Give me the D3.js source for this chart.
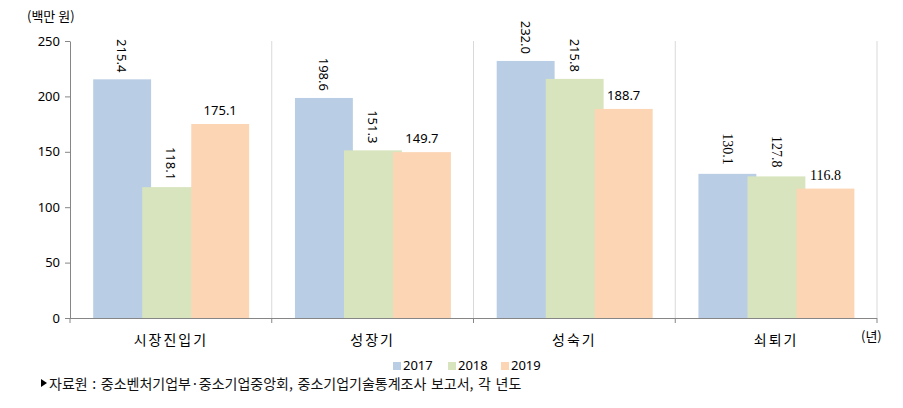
<!DOCTYPE html>
<html><head><meta charset="utf-8">
<script src="https://cdn.jsdelivr.net/npm/d3@7"></script>
<style>body{margin:0;background:#fff}</style>
</head><body>
<svg id="c" width="903" height="408"></svg>
<script>
const categories = ["시장진입기", "성장기", "성숙기", "쇠퇴기"];
const seriesNames = ["2017", "2018", "2019"];
const values2017 = [215.4, 198.6, 232.0, 130.1];
const values2018 = [118.1, 151.3, 215.8, 127.8];
const values2019 = [175.1, 149.7, 188.7, 116.8];
const yTicks = [0, 50, 100, 150, 200, 250];
const colors = ["#B9CDE5", "#D7E4BD", "#FCD5B5"];
const series = [values2017, values2018, values2019];

(function () {
const svg = d3.select("#c");
const pLeft = 70, pRight = 877, pTop = 41, pBottom = 318;
const x = d3.scaleBand().domain(categories).range([pLeft, pRight]).padding(0);
const y = d3.scaleLinear().domain([0, 250]).range([pBottom, pTop]);
const bw = x.bandwidth();
const sans = "'Malgun Gothic','Noto Sans CJK KR',sans-serif";
const labelSans = "'Noto Sans','Malgun Gothic',sans-serif";
const labelSerif = "'Liberation Serif','Times New Roman',serif";

categories.forEach((c) => {
  const xx = x(c) + bw;
  svg.append("line").attr("x1", xx).attr("x2", xx).attr("y1", pTop).attr("y2", pBottom)
    .attr("stroke", "#D9D9D9").attr("stroke-width", 1);
});

series.forEach((vals, j) => {
  svg.selectAll(null).data(categories).enter().append("rect")
    .attr("x", c => x(c) + bw * 0.115 + j * bw * 0.243)
    .attr("width", bw * 0.287)
    .attr("y", (c, i) => y(vals[i]))
    .attr("height", (c, i) => pBottom - y(vals[i]))
    .attr("fill", colors[j]);
});

series.forEach((vals, j) => {
  categories.forEach((c, i) => {
    const serif = i === categories.length - 1;
    const cx = x(c) + bw * 0.115 + j * bw * 0.243 + bw * 0.287 / 2;
    const t = svg.append("text").text(vals[i].toFixed(1))
      .attr("font-family", serif ? labelSerif : labelSans)
      .attr("font-size", serif ? 14 : 13).attr("fill", "#000");
    if (j < 2) {
      t.attr("transform", `translate(${cx},${y(vals[i]) - (serif ? 9 : 7)}) rotate(90)`)
       .attr("text-anchor", "end").attr("dominant-baseline", "central");
    } else {
      t.attr("x", cx).attr("y", y(vals[i]) - 9).attr("text-anchor", "middle");
    }
  });
});

const yAxis = d3.axisLeft(y).tickValues(yTicks).tickSize(5).tickSizeOuter(0);
const ya = svg.append("g").attr("transform", `translate(${pLeft},0)`).call(yAxis);
ya.select(".domain").attr("stroke", "#868686");
ya.selectAll(".tick line").attr("stroke", "#868686");
ya.selectAll(".tick text").attr("font-family", labelSans).attr("font-size", 13).attr("fill", "#000").attr("x", -10);

svg.append("line").attr("x1", pLeft).attr("x2", pRight).attr("y1", pBottom + 0.5).attr("y2", pBottom + 0.5)
  .attr("stroke", "#868686");
[pLeft].concat(categories.map(c => x(c) + bw)).forEach(xx => {
  svg.append("line").attr("x1", xx).attr("x2", xx).attr("y1", pBottom).attr("y2", pBottom + 5).attr("stroke", "#868686");
});
svg.selectAll(null).data(categories).enter().append("text")
  .attr("x", c => x(c) + bw / 2).attr("y", 345).attr("text-anchor", "middle")
  .attr("font-family", sans).attr("font-size", 14).attr("letter-spacing", 2).attr("fill", "#000")
  .text(c => c);

svg.append("text").attr("x", 27).attr("y", 21).attr("font-family", sans).attr("font-size", 13).text("(백만 원)");
svg.append("text").attr("x", 861).attr("y", 341).attr("font-family", sans).attr("font-size", 13).text("(년)");

const lx = [393, 448, 501];
seriesNames.forEach((s, j) => {
  svg.append("rect").attr("x", lx[j]).attr("y", 362).attr("width", 8).attr("height", 8).attr("fill", colors[j]);
  svg.append("text").attr("x", lx[j] + 10).attr("y", 370).attr("font-family", labelSans).attr("font-size", 13).attr("fill", "#000").text(s);
});

svg.append("path").attr("d", "M41,379 L47,383 L41,387 Z").attr("fill", "#000");
svg.append("text").attr("x", 49).attr("y", 389).attr("font-family", sans).attr("font-size", 14).attr("word-spacing", 1.5).attr("fill", "#111")
  .text("자료원 : 중소벤처기업부·중소기업중앙회, 중소기업기술통계조사 보고서, 각 년도");
})();
</script>
</body></html>
